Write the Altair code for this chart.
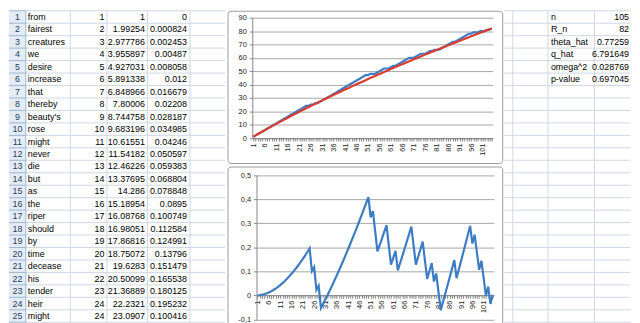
import altair as alt
import pandas as pd

# ---------------- data ----------------
words = ["from", "fairest", "creatures", "we", "desire", "increase", "that",
         "thereby", "beauty's", "rose", "might", "never", "die", "but", "as",
         "the", "riper", "should", "by", "time", "decease", "his", "tender",
         "heir", "might"]

n_idx = list(range(1, 106))

observed = [1, 2, 3, 4, 5, 6, 7, 8, 9, 10,
            11, 12, 13, 14, 15, 16, 17, 18, 19, 20,
            21, 22, 23, 24, 24, 25, 25, 26, 26, 27,
            28, 29, 30, 31, 32, 33, 34, 35, 36, 37,
            38, 39, 40, 41, 42, 43, 44, 45, 46, 47,
            47, 48, 48, 48, 49, 50, 51, 52, 52, 52,
            53, 54, 54, 55, 56, 57, 58, 59, 60, 60,
            60, 61, 62, 63, 63, 63, 64, 65, 65, 66,
            66, 66, 67, 68, 69, 70, 71, 72, 72, 73,
            74, 75, 76, 77, 78, 78, 79, 79, 79, 80,
            80, 80, 81, 81, 82]

expected = [1, 1.99254, 2.977786, 3.955897, 4.927031, 5.891338, 6.848966, 7.80006, 8.744758, 9.683196,
            10.61551, 11.54182, 12.46226, 13.37695, 14.286, 15.18954, 16.08768, 16.98051, 17.86816, 18.75072,
            19.6283, 20.50099, 21.36889, 22.2321, 23.0907, 23.9447, 24.7942, 25.6393, 26.4801, 27.3167,
            28.1491, 28.9774, 29.8017, 30.6221, 31.4387, 32.2516, 33.0609, 33.8667, 34.6691, 35.4682,
            36.2641, 37.0569, 37.8467, 38.6335, 39.4174, 40.1985, 40.9768, 41.7524, 42.5253, 43.2955,
            44.0628, 44.8274, 45.5893, 46.3485, 47.105, 47.8588, 48.6099, 49.3583, 50.104, 50.847,
            51.5873, 52.3249, 53.0598, 53.792, 54.5215, 55.2483, 55.9724, 56.6938, 57.4125, 58.1285,
            58.8425, 59.5545, 60.2645, 60.9725, 61.6785, 62.3825, 63.0845, 63.7845, 64.4825, 65.1785,
            65.8725, 66.5645, 67.2545, 67.9425, 68.6285, 69.3125, 69.9945, 70.6745, 71.3525, 72.0285,
            72.7029, 73.3757, 74.0469, 74.7165, 75.3845, 76.0509, 76.7157, 77.3789, 78.0405, 78.7005,
            79.3589, 80.0157, 80.6709, 81.3245, 81.9765]

deviation = [0, 0.000824, 0.002453, 0.00487, 0.008058, 0.012, 0.016679, 0.02208, 0.028187, 0.034985,
             0.04246, 0.050597, 0.059383, 0.068804, 0.078848, 0.0895, 0.100749, 0.112584, 0.124991, 0.13796,
             0.151479, 0.165538, 0.180125, 0.195232, 0.100416, 0.1165, 0.0227, 0.0398, -0.053, -0.035,
             -0.0165, 0.0025, 0.0219, 0.0417, 0.062, 0.0826, 0.1037, 0.1252, 0.147, 0.1692,
             0.1917, 0.2146, 0.2378, 0.2613, 0.2852, 0.3094, 0.3339, 0.3586, 0.3837, 0.4091,
             0.3244, 0.3504, 0.2662, 0.1824, 0.2093, 0.2365, 0.2639, 0.2917, 0.2094, 0.1273,
             0.156, 0.185, 0.1038, 0.1334, 0.1633, 0.1934, 0.2239, 0.2547, 0.2857, 0.2067,
             0.1278, 0.1596, 0.1917, 0.2239, 0.1459, 0.0682, 0.1011, 0.1342, 0.0571, 0.0907,
             0.0141, -0.0623, -0.0281, 0.0063, 0.041, 0.0759, 0.111, 0.1464, 0.0715, 0.1073,
             0.1432, 0.1794, 0.2157, 0.2522, 0.2888, 0.2152, 0.2523, 0.179, 0.106, 0.1435,
             0.0708, -0.0017, 0.0363, -0.0358, 0.0026]

stat_names = ["n", "R_n", "theta_hat", "q_hat", "omega^2", "p-value"]
stat_values = [105, 82, 0.77259, 6.791649, 0.028769, 0.697045]

top_ticks = [0, 10, 20, 30, 40, 50, 60, 70, 80, 90]
bottom_ticks = [-0.1, 0, 0.1, 0.2, 0.3, 0.4, 0.5]

# ---------------- style / layout ----------------
FONT = "Liberation Sans"
ROW_H = 12.6
N_ROWS = 25
SHEET_H = ROW_H * N_ROWS
TABLE_W = 218.7
CHART_W = 277.8
RIGHT_W = 127.5
TOP_H = 154
GAP = 1.5
BOT_H = SHEET_H - TOP_H - GAP

GRID = "#d0d7e5"
HEAD_FILL = "#e4ecf7"
HEAD_LINE = "#9eb6ce"
FRAME = "#9a9a9a"
AXIS_C = "#868686"
GRID_C = "#a6a6a6"
BLUE = "#3b7cc4"
RED = "#dc3b30"
TXT = "#000000"

one = pd.DataFrame({"k": [0]})
row_scale = alt.Scale(domain=[0.5, 25.5], reverse=True, nice=False, zero=False)
bounds = pd.DataFrame({"b": [i + 0.5 for i in range(0, 26)]})


def vrule(x, color):
    return alt.Chart(one).mark_rule(color=color, strokeWidth=1).encode(
        x=alt.value(x), y=alt.value(0), y2=alt.value(SHEET_H))


def hrules(x0, x1, color):
    return alt.Chart(bounds).mark_rule(color=color, strokeWidth=1).encode(
        y=alt.Y("b:Q", scale=row_scale, axis=None), x=alt.value(x0), x2=alt.value(x1))


# ---------------- left: spreadsheet table ----------------
rows = pd.DataFrame({"row": n_idx[:25], "word": words, "obs": observed[:25],
                     "exp": expected[:25], "dev": deviation[:25]})


def col_text(field, x, align, color=TXT):
    return alt.Chart(rows).mark_text(align=align, baseline="middle", font=FONT,
                                     fontSize=9, color=color).encode(
        x=alt.value(x), y=alt.Y("row:Q", scale=row_scale, axis=None),
        text=alt.Text(f"{field}:N"))


header_bg = alt.Chart(one).mark_rect(color=HEAD_FILL).encode(
    x=alt.value(0), x2=alt.value(17), y=alt.value(0), y2=alt.value(SHEET_H))

table = alt.layer(
    header_bg,
    hrules(17, TABLE_W, GRID),
    hrules(0, 17, HEAD_LINE),
    vrule(62, GRID), vrule(99, GRID), vrule(140, GRID), vrule(183, GRID),
    vrule(17, HEAD_LINE),
    col_text("row", 8.5, "center", "#2c3e57"),
    col_text("word", 19, "left"),
    col_text("obs", 96.5, "right"),
    col_text("exp", 137.5, "right"),
    col_text("dev", 180, "right"),
).properties(width=TABLE_W, height=SHEET_H,
             view=alt.ViewBackground(stroke="transparent"))

# ---------------- middle: the two Excel charts ----------------
df = pd.DataFrame({"n": n_idx, "observed": observed, "expected": expected,
                   "deviation": deviation})

label_every5 = "(datum.value - 1) % 5 == 0 ? datum.label : ''"


def x_axis(offset):
    return alt.Axis(values=n_idx, labelExpr=label_every5, labelAngle=270,
                    labelOverlap=False, labelFlush=False, tickSize=3,
                    tickColor=AXIS_C, domainColor=AXIS_C, grid=False, title="",
                    labelFont=FONT, labelFontSize=7.5, labelColor="#1a1a1a",
                    labelPadding=2, offset=offset)


def y_axis(values, offset, label_expr):
    return alt.Axis(values=values, offset=offset, grid=True, gridColor=GRID_C,
                    tickSize=3, tickColor=AXIS_C, domainColor=AXIS_C, title="",
                    labelFont=FONT, labelFontSize=7.5, labelColor="#1a1a1a",
                    labelPadding=3, labelExpr=label_expr)


# top chart
xt = alt.Scale(domain=[0.5, 105.5], range=[25, 268.3], nice=False, zero=False)
yt = alt.Scale(domain=[0, 90], range=[128.7, 7], nice=False, zero=False)
xa_t = x_axis(-(TOP_H - 128.7))
ya_t = y_axis(top_ticks, -25, "datum.label")

top_blue = alt.Chart(df).mark_line(color=BLUE, strokeWidth=2.2).encode(
    x=alt.X("n:Q", scale=xt, axis=xa_t),
    y=alt.Y("observed:Q", scale=yt, axis=ya_t))
top_red = alt.Chart(df).mark_line(color=RED, strokeWidth=2.2).encode(
    x=alt.X("n:Q", scale=xt, axis=xa_t),
    y=alt.Y("expected:Q", scale=yt, axis=ya_t))
top = alt.layer(top_blue, top_red).properties(
    width=CHART_W, height=TOP_H,
    view=alt.ViewBackground(fill="white", stroke=FRAME, cornerRadius=3))

# bottom chart
xb = alt.Scale(domain=[0.5, 105.5], range=[29.3, 269.3], nice=False, zero=False)
yb = alt.Scale(domain=[-0.1, 0.5], range=[154.5, 8.8], nice=False, zero=False)
comma_expr = "replace(replace(format(datum.value, '~g'), '.', ','), '\u2212', '-')"
bottom = alt.Chart(df).mark_line(color=BLUE, strokeWidth=2.2).encode(
    x=alt.X("n:Q", scale=xb, axis=x_axis(130.2 - BOT_H)),
    y=alt.Y("deviation:Q", scale=yb, axis=y_axis(bottom_ticks, -29.3, comma_expr)),
).properties(width=CHART_W, height=BOT_H,
             view=alt.ViewBackground(fill="white", stroke=FRAME, cornerRadius=3))

charts = alt.vconcat(top, bottom, spacing=GAP)

# ---------------- right: statistics cells ----------------
stats = pd.DataFrame({"row": list(range(1, 7)), "name": stat_names,
                      "value": stat_values})
right = alt.layer(
    hrules(0, RIGHT_W, GRID),
    vrule(8.5, GRID), vrule(44, GRID), vrule(91, GRID),
    alt.Chart(stats).mark_text(align="left", baseline="middle", font=FONT,
                               fontSize=9, color=TXT).encode(
        x=alt.value(47), y=alt.Y("row:Q", scale=row_scale, axis=None),
        text=alt.Text("name:N")),
    alt.Chart(stats).mark_text(align="right", baseline="middle", font=FONT,
                               fontSize=9, color=TXT).encode(
        x=alt.value(126), y=alt.Y("row:Q", scale=row_scale, axis=None),
        text=alt.Text("value:N")),
).properties(width=RIGHT_W, height=SHEET_H,
             view=alt.ViewBackground(stroke="transparent"))

chart = alt.hconcat(table, charts, right, spacing=0).properties(
    padding=0, background="white")

chart.save("out.html", embed_options={"renderer": "svg", "actions": False})
